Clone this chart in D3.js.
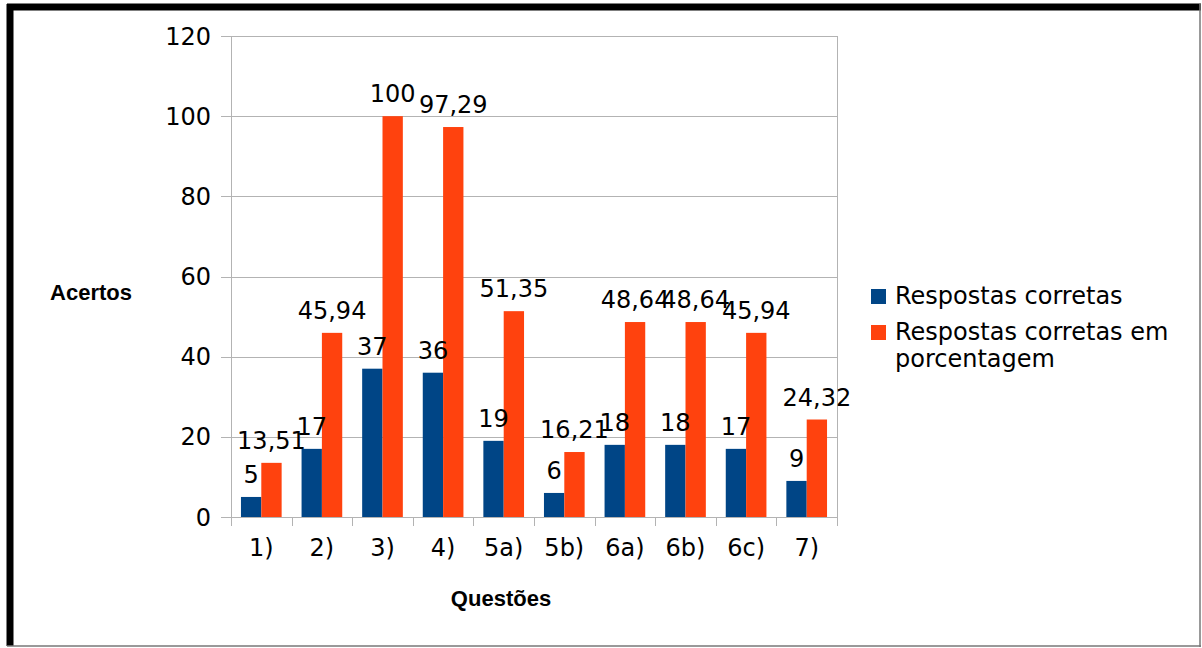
<!DOCTYPE html>
<html>
<head>
<meta charset="utf-8">
<script src="https://cdn.jsdelivr.net/npm/d3@7"></script>
<style>
  body { margin: 0; background: #fff; }
  svg { display: block; }
  text { font-family: "DejaVu Sans", sans-serif; fill: #000; }
</style>
</head>
<body>
<div id="chart"></div>
<script>
// data
var questoes = ["1)", "2)", "3)", "4)", "5a)", "5b)", "6a)", "6b)", "6c)", "7)"];
var corretas = [5, 17, 37, 36, 19, 6, 18, 18, 17, 9];
var porcentagem = [13.51, 45.94, 100, 97.29, 51.35, 16.21, 48.64, 48.64, 45.94, 24.32];
var yTicks = [0, 20, 40, 60, 80, 100, 120];

var W = 1202, H = 648;
var plot = {left: 231, right: 837, top: 36, bottom: 517};

var svg = d3.select("#chart").append("svg")
  .attr("width", W).attr("height", H);

svg.append("rect").attr("width", W).attr("height", H).attr("fill", "#fff");

// frame round the picture
svg.append("line").attr("x1", 10).attr("x2", 10).attr("y1", 4).attr("y2", 646)
  .attr("stroke", "#000").attr("stroke-width", 7);
svg.append("line").attr("x1", 7).attr("x2", 1201).attr("y1", 7).attr("y2", 7)
  .attr("stroke", "#000").attr("stroke-width", 7);
svg.append("line").attr("x1", 1200).attr("x2", 1200).attr("y1", 4).attr("y2", 647)
  .attr("stroke", "#777").attr("stroke-width", 1.5);
svg.append("line").attr("x1", 7).attr("x2", 1201).attr("y1", 646).attr("y2", 646)
  .attr("stroke", "#777").attr("stroke-width", 1.5);

var x = d3.scaleBand()
  .domain(questoes)
  .range([plot.left, plot.right])
  .padding(0);

var xs = d3.scaleBand()
  .domain([0, 1])
  .range([0, x.bandwidth()])
  .paddingInner(0)
  .paddingOuter(0.49);

var y = d3.scaleLinear()
  .domain([0, 120])
  .range([plot.bottom, plot.top]);

var colors = ["#004586", "#ff420e"];
var grid = "#b3b3b3";

// horizontal grid
svg.append("g").selectAll("line")
  .data(yTicks)
  .enter().append("line")
    .attr("x1", plot.left - 10)
    .attr("x2", plot.right)
    .attr("y1", function(d){ return Math.round(y(d)) + 0.5; })
    .attr("y2", function(d){ return Math.round(y(d)) + 0.5; })
    .attr("stroke", grid).attr("stroke-width", 1);

// y tick labels
svg.append("g").selectAll("text")
  .data(yTicks)
  .enter().append("text")
    .attr("x", 211)
    .attr("y", function(d){ return y(d); })
    .attr("dy", "0.36em")
    .attr("text-anchor", "end")
    .style("font-size", "24px")
    .text(function(d){ return d; });

// side lines of the plot area
svg.append("line").attr("x1", plot.left + 0.5).attr("x2", plot.left + 0.5)
  .attr("y1", plot.top).attr("y2", plot.bottom + 9).attr("stroke", grid);
svg.append("line").attr("x1", plot.right + 0.5).attr("x2", plot.right + 0.5)
  .attr("y1", plot.top).attr("y2", plot.bottom + 9).attr("stroke", grid);

// x ticks at category boundaries
svg.append("g").selectAll("line")
  .data(questoes)
  .enter().append("line")
    .attr("x1", function(d){ return Math.round(x(d)) + 0.5; })
    .attr("x2", function(d){ return Math.round(x(d)) + 0.5; })
    .attr("y1", plot.bottom)
    .attr("y2", plot.bottom + 9)
    .attr("stroke", grid);

// bars
var table = questoes.map(function(q, i){
  return {q: q, values: [corretas[i], porcentagem[i]]};
});

var groups = svg.append("g").selectAll("g")
  .data(table)
  .enter().append("g")
    .attr("transform", function(d){ return "translate(" + x(d.q) + ",0)"; });

groups.selectAll("rect")
  .data(function(d){ return d.values.map(function(v, s){ return {s: s, v: v}; }); })
  .enter().append("rect")
    .attr("x", function(d){ return xs(d.s); })
    .attr("width", xs.bandwidth())
    .attr("y", function(d){ return y(d.v); })
    .attr("height", function(d){ return y(0) - y(d.v); })
    .attr("fill", function(d){ return colors[d.s]; });

groups.selectAll("text")
  .data(function(d){ return d.values.map(function(v, s){ return {s: s, v: v}; }); })
  .enter().append("text")
    .attr("x", function(d){ return xs(d.s) + xs.bandwidth() / 2; })
    .attr("y", function(d){ return y(d.v) - 14; })
    .attr("text-anchor", "middle")
    .style("font-size", "24px")
    .text(function(d){ return String(d.v).replace(".", ","); });

// x tick labels
svg.append("g").selectAll("text")
  .data(questoes)
  .enter().append("text")
    .attr("x", function(d){ return x(d) + x.bandwidth() / 2; })
    .attr("y", 556)
    .attr("text-anchor", "middle")
    .style("font-size", "24px")
    .text(function(d){ return d; });

// axis titles
svg.append("text")
  .attr("x", 91).attr("y", 300)
  .attr("text-anchor", "middle")
  .style("font-family", "'Liberation Sans', Arial, sans-serif")
  .style("font-weight", "bold")
  .style("font-size", "22px")
  .text("Acertos");

svg.append("text")
  .attr("x", 501).attr("y", 606)
  .attr("text-anchor", "middle")
  .style("font-family", "'Liberation Sans', Arial, sans-serif")
  .style("font-weight", "bold")
  .style("font-size", "22px")
  .text("Questões");

// legend
var legend = svg.append("g").attr("transform", "translate(871,289)");
var legendLines = [["Respostas corretas"], ["Respostas corretas em", "porcentagem"]];
legendLines.forEach(function(lines, i){
  var g = legend.append("g").attr("transform", "translate(0," + (i * 36) + ")");
  g.append("rect").attr("width", 15).attr("height", 15).attr("fill", colors[i]);
  var t = g.append("text").attr("x", 24).attr("y", 15).style("font-size", "24px");
  lines.forEach(function(l, j){
    t.append("tspan").attr("x", 24).attr("dy", j === 0 ? 0 : 27).text(l);
  });
});
</script>
</body>
</html>
